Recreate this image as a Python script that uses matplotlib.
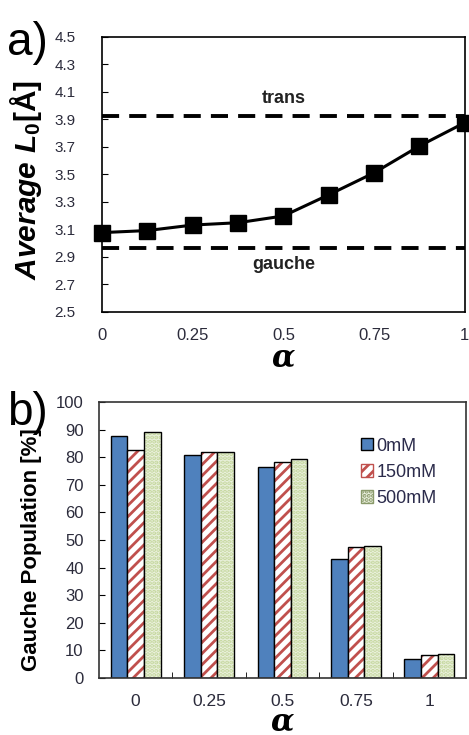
import numpy as np
import matplotlib.pyplot as plt
from matplotlib.ticker import FormatStrFormatter
from matplotlib.patches import Patch

plt.rcParams['font.family'] = ['Liberation Sans', 'DejaVu Sans']
plt.rcParams['hatch.linewidth'] = 2.0
plt.rcParams['mathtext.fontset'] = 'custom'
plt.rcParams['mathtext.it'] = 'Liberation Sans:italic:bold'
plt.rcParams['mathtext.rm'] = 'Liberation Sans:bold'

# panel a
alpha_a = [0, 0.125, 0.25, 0.375, 0.5, 0.625, 0.75, 0.875, 1.0]
L0 = [3.075, 3.09, 3.13, 3.147, 3.196, 3.35, 3.51, 3.705, 3.875]
trans_level = 3.92
gauche_level = 2.96

# panel b
alpha_labels = ["0", "0.25", "0.5", "0.75", "1"]
pop_0mM = [87.6, 80.9, 76.4, 43.2, 6.6]
pop_150mM = [82.5, 82.1, 78.3, 47.3, 8.2]
pop_500mM = [89.1, 82.1, 79.4, 47.9, 8.7]
series = ["0mM", "150mM", "500mM"]

tick_col = "#2b2b3b"

fig = plt.figure(figsize=(4.69, 7.35), dpi=100)

ax1 = fig.add_axes([0.2175, 0.576, 0.7735, 0.374])
ax1.axhline(trans_level, color="black", lw=2.8, ls=(0, (4.4, 2.6)), zorder=1)
ax1.axhline(gauche_level, color="black", lw=2.8, ls=(0, (4.4, 2.6)), zorder=1)
ax1.plot(alpha_a, L0, color="black", lw=2.2, marker="s", ms=11, clip_on=False, zorder=3)
ax1.set_xlim(0, 1)
ax1.set_ylim(2.5, 4.5)
ax1.set_yticks(np.arange(2.5, 4.51, 0.2))
ax1.yaxis.set_major_formatter(FormatStrFormatter("%.1f"))
ax1.set_xticks([0, 0.25, 0.5, 0.75, 1])
ax1.set_xticklabels(["0", "0.25", "0.5", "0.75", "1"])
ax1.tick_params(axis="y", direction="in", length=4, labelsize=11, labelcolor=tick_col, pad=19)
ax1.tick_params(axis="x", length=0, labelsize=12, labelcolor=tick_col, pad=12)
for s in ax1.spines.values():
    s.set_linewidth(1.2)
ax1.text(0.5, 4.05, "trans", ha="center", va="center", fontsize=13, fontweight="bold", color="#222222")
ax1.text(0.5, 2.84, "gauche", ha="center", va="center", fontsize=13, fontweight="bold", color="#222222")
ax1.set_ylabel(r"$Average\ L_0$[Å]", fontsize=21.5, fontweight="bold")
ax1.yaxis.set_label_coords(-0.16, 0.48)
ax1.set_xlabel("α", fontsize=22, fontweight="bold", fontstyle="italic", family="DejaVu Serif", labelpad=-1)
fig.text(0.015, 0.971, "a)", fontsize=33, ha="left", va="top")

ax2 = fig.add_axes([0.211, 0.078, 0.7826, 0.3747])
x = np.arange(len(alpha_labels))
w = 0.226
ax2.bar(x - w, pop_0mM, w, color="#4f81bd", edgecolor="black", lw=1, label=series[0])
ax2.bar(x, pop_150mM, w, color="white", edgecolor="#c0504d", hatch="///", lw=0, label=series[1])
ax2.bar(x, pop_150mM, w, color="none", edgecolor="black", lw=1)
ax2.bar(x + w, pop_500mM, w, color="#ebf1de", edgecolor="#c3d69b", hatch="....", lw=0, label=series[2])
ax2.bar(x + w, pop_500mM, w, color="none", edgecolor="black", lw=1)
ax2.set_xlim(-0.5, len(alpha_labels) - 0.5)
ax2.set_ylim(0, 100)
ax2.set_yticks(np.arange(0, 101, 10))
ax2.set_xticks(x)
ax2.set_xticklabels(alpha_labels)
ax2.set_xticks(np.arange(0.5, len(alpha_labels) - 1, 1), minor=True)
ax2.tick_params(axis="x", which="major", length=0, labelsize=12.5, labelcolor=tick_col, pad=12)
ax2.tick_params(axis="x", which="minor", direction="in", length=4)
ax2.tick_params(axis="y", direction="in", length=4, labelsize=12, labelcolor=tick_col, pad=11)
for s in ax2.spines.values():
    s.set_linewidth(1.2)
    s.set_color("#333333")
handles = [Patch(facecolor="#4f81bd", edgecolor="black"),
           Patch(facecolor="white", edgecolor="#c0504d", hatch="///"),
           Patch(facecolor="#ebf1de", edgecolor="#8a9a6b", hatch="....")]
leg = ax2.legend(handles, series, loc="upper right", bbox_to_anchor=(0.965, 0.93), frameon=False,
                 fontsize=13, handlelength=0.65, handleheight=0.65, handletextpad=0.2, labelspacing=0.5)
for t in leg.get_texts():
    t.set_color("#2b2b4b")
ax2.set_ylabel("Gauche Population [%]", fontsize=16, fontweight="bold")
ax2.yaxis.set_label_coords(-0.155, 0.464)
ax2.set_xlabel("α", fontsize=22, fontweight="bold", fontstyle="italic", family="DejaVu Serif", labelpad=-2)
fig.text(0.015, 0.468, "b)", fontsize=33, ha="left", va="top")

fig.savefig("out.png", dpi=100)
